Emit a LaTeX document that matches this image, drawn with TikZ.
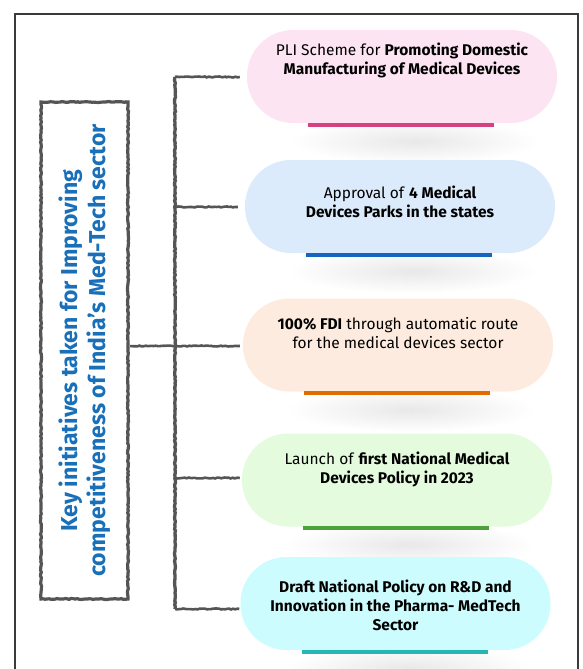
\documentclass[tikz,border=0pt]{standalone}
\usepackage{fontspec}
\setmainfont{Fira Sans}
\usetikzlibrary{positioning}
\usetikzlibrary{backgrounds}
\usetikzlibrary{decorations.pathmorphing}

\definecolor{framegray}{HTML}{3A3A3A}
\definecolor{sketchgray}{HTML}{555555}
\definecolor{titleblue}{HTML}{1A70B8}
\definecolor{pinkfill}{HTML}{FCE4F2}
\definecolor{bluefill}{HTML}{DCEBFC}
\definecolor{orangefill}{HTML}{FDEBDF}
\definecolor{greenfill}{HTML}{E4FCDD}
\definecolor{cyanfill}{HTML}{CCFCFD}
\definecolor{pinkline}{HTML}{D6417F}
\definecolor{blueline}{HTML}{1565C0}
\definecolor{orangeline}{HTML}{E06C00}
\definecolor{greenline}{HTML}{4CA13A}
\definecolor{tealline}{HTML}{25B7B0}

\tikzset{
	frame/.style={draw=framegray, line width=1.4pt},
	sketchy/.style={draw=sketchgray, decorate, decoration={random steps, segment length=2pt, amplitude=0.5pt}},
	titlebox/.style={sketchy, line width=3.2pt, rectangle, rotate=90, minimum width=497pt, minimum height=87pt,
		align=center, text=titleblue, font=\fontsize{23}{28}\selectfont\bfseries},
	branch/.style={sketchy, line width=2.6pt},
	pill/.style={rectangle, rounded corners=46pt, minimum width=310pt, minimum height=93pt, inner sep=0pt},
	pilltext/.style={align=center, inner sep=0pt, font=\fontsize{15.5}{19}\selectfont},
	underline/.style={line width=3.5pt},
	shadow/.style={inner color=black!9, outer color=white}
}

\begin{document}
\begin{tikzpicture}[x=1pt, y=-1pt]
\useasboundingbox (0,0) rectangle (582,669);
\draw[frame] (15,669) -- (15,14) -- (578,14) -- (578,669);

\node[titlebox] (title) at (84.5,350.5) {Key initiatives taken for Improving\\competitiveness of India’s Med-Tech sector};

% the five initiatives
\node[pill, fill=pinkfill] (p1) at (402,76.5) {};
\node[pilltext, below=12.5pt of p1.north] (l1) {PLI Scheme for \textbf{Promoting Domestic}\\\textbf{Manufacturing of Medical Devices}};

\node[pill, fill=bluefill] (p2) at (400,206.5) {};
\node[pilltext, below=25.5pt of p2.north] (l2) {Approval of \textbf{4 Medical}\\\textbf{Devices Parks in the states}};

\node[pill, fill=orangefill] (p3) at (398,345) {};
\node[pilltext, below=18.5pt of p3.north] (l3) {\textbf{100\% FDI} through automatic route\\for the medical devices sector};

\node[pill, fill=greenfill] (p4) at (397,480) {};
\node[pilltext, below=18.5pt of p4.north] (l4) {Launch of \textbf{first National Medical}\\\textbf{Devices Policy in 2023}};

\node[pill, fill=cyanfill] (p5) at (395.5,603.5) {};
\node[pilltext, below=22.5pt of p5.north, font=\fontsize{15.5}{19}\selectfont\bfseries] (l5) {Draft National Policy on R\&D and\\Innovation in the Pharma- MedTech\\Sector};

% coloured bars under the pills
\draw[underline, pinkline] ([xshift=-94pt, yshift=-2pt]p1.south) -- ([xshift=92pt, yshift=-2pt]p1.south);
\draw[underline, blueline] ([xshift=-94pt, yshift=-2pt]p2.south) -- ([xshift=92pt, yshift=-2pt]p2.south);
\draw[underline, orangeline] ([xshift=-94pt, yshift=-1.5pt]p3.south) -- ([xshift=92pt, yshift=-1.5pt]p3.south);
\draw[underline, greenline] ([xshift=-94pt, yshift=-1.5pt]p4.south) -- ([xshift=92pt, yshift=-1.5pt]p4.south);
\draw[underline, tealline] ([xshift=-94pt, yshift=-2pt]p5.south) -- ([xshift=92pt, yshift=-2pt]p5.south);

% soft shadows
\begin{scope}[on background layer]
\shade[shadow] ([xshift=13pt, yshift=-18pt]p1.south) ellipse (125pt and 22pt);
\shade[shadow] ([xshift=13pt, yshift=-18pt]p2.south) ellipse (125pt and 22pt);
\shade[shadow] ([xshift=13pt, yshift=-18pt]p3.south) ellipse (125pt and 22pt);
\shade[shadow] ([xshift=13pt, yshift=-18pt]p4.south) ellipse (125pt and 22pt);
\shade[shadow] ([xshift=13pt, yshift=-18pt]p5.south) ellipse (125pt and 22pt);
\end{scope}

% trunk and branches
\coordinate (t1) at (175,77);
\coordinate (t2) at (175,207);
\coordinate (t3) at (175,346);
\coordinate (t4) at (175,478);
\coordinate (t5) at (175,609);

\draw[sketchy, line width=3.3pt] (t1) -- (t5);
\draw[branch] (t1) -- ([xshift=-7pt]p1.west |- t1);
\draw[branch] (t2) -- ([xshift=-7pt]p2.west |- t2);
\draw[branch] (t3) -- ([xshift=-3pt]p3.west |- t3);
\draw[branch] (t4) -- ([xshift=-2pt]p4.west |- t4);
\draw[branch] (t5) -- ([xshift=-1pt]p5.west |- t5);
\draw[branch] (title.south |- t3) -- (t3);

\end{tikzpicture}
\end{document}
